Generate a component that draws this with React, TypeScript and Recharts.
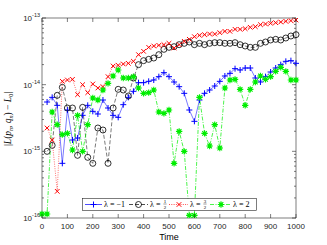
import { LineChart, Line, XAxis, YAxis } from "recharts";

// time grid (every 20 units) and log10 of the error for each lambda
const times = [
  0, 20, 40, 60, 80, 100, 120, 140, 160, 180, 200, 220, 240, 260, 280, 300, 320, 340, 360, 380,
  400, 420, 440, 460, 480, 500, 520, 540, 560, 580, 600, 620, 640, 660, 680, 700, 720, 740, 760, 780,
  800, 820, 840, 860, 880, 900, 920, 940, 960, 980, 1000,
];

const blueExp = [
  null, -14.26, -14.19, -14.31, -15.18, -14.38, -14.83, -14.8, -14.46, -14.31, -14.4, -14.44, -14.23, -14.35, -14.46, -14.49, -14.3, -14.19, -14.1, -13.97,
  -13.97, -13.95, -13.93, -13.88, -13.82, -13.88, -13.96, -14.03, -14.13, -14.38, -14.55, -14.23, -14.13, -14.08, -14.02, -13.95, -13.87, -13.83, -13.76, -13.78,
  -13.75, -13.75, -13.9, -13.96, -13.88, -13.81, -13.75, -13.7, -13.65, -13.64, -13.68,
];

const blackExp = [
  null, -15.0, -14.91, -14.16, -14.04, -14.35, -14.35, -15.06, -14.34, -15.09, -15.18, -14.65, -14.68, -15.18, -14.35, -14.07, -14.08, -14.17, -13.9, -13.7,
  -13.64, -13.62, -13.6, -13.55, -13.47, -13.44, -13.43, -13.4, -13.38, -13.36, -13.4, -13.38, -13.4, -13.38, -13.37, -13.37, -13.38, -13.38, -13.37, -13.4,
  -13.42, -13.44, -13.44, -13.38, -13.36, -13.33, -13.32, -13.33, -13.3, -13.27, -13.25,
];

const redExp = [
  null, -14.65, -14.83, -15.6, -13.95, -13.93, -13.92, -14.15, -14.0, -14.12, -13.99, -14.05, -14.03, -13.88, -13.72, -13.71, -13.69, -13.68, -13.65, -13.55,
  -13.5, -13.44, -13.42, -13.41, -13.4, -13.38, -13.45, -13.4, -13.35, -13.32, -13.28, -13.26, -13.25, -13.24, -13.24, -13.22, -13.2, -13.2, -13.17, -13.17,
  -13.16, -13.14, -13.13, -13.1, -13.09, -13.08, -13.07, -13.06, -13.05, -13.04, -13.03,
];

const greenExp = [
  -15.94, -15.94, -14.41, -14.6, -14.75, -14.73, -14.98, -14.46, -15.0, -14.6, -14.2, -14.23, -14.08, -13.98, -13.87, -13.78, -13.9, -13.9, -13.88, -14.05,
  -14.13, -14.12, -14.08, -14.41, -14.43, -14.38, -15.18, -14.7, -15.0, -15.96, -15.96, -14.19, -14.73, -14.92, -14.6, -14.95, -14.05, -13.93, -13.92, -14.07,
  -14.31, -14.07, -13.96, -13.87, -13.92, -13.88, -13.8, -13.74, -13.8, -13.93, -13.93,
];

const xTicks = [0, 100, 200, 300, 400, 500, 600, 700, 800, 900, 1000];
const decades = [-16, -15, -14, -13];
const minorMult = [2, 3, 4, 5, 6, 7, 8, 9];

const data = times.map((t, i) => ({
  t,
  blue: blueExp[i],
  black: blackExp[i],
  red: redExp[i],
  green: greenExp[i],
}));

const yTicks = [...decades];
decades.slice(0, 3).forEach((d) => minorMult.forEach((m) => yTicks.push(d + Math.log10(m))));
yTicks.sort((a, b) => a - b);

const axisColor = "#262626";
const BLUE = "#0000ff";
const RED = "#ff0000";
const GREEN = "#00ee00";

const isMajor = (v: number) => Math.abs(v - Math.round(v)) < 1e-6;

function LeftTick({ x, y, payload }: any) {
  const v = payload.value;
  const major = isMajor(v);
  return (
    <g>
      <line x1={x} x2={x + (major ? 4 : 2)} y1={y} y2={y} stroke={axisColor} strokeWidth={0.6} />
      {major && (
        <text x={x - 2} y={y + 3} textAnchor="end" fontSize={8} fill={axisColor} fontFamily="Liberation Sans">
          10<tspan dy={-4} fontSize={5.5}>{String(Math.round(v))}</tspan>
        </text>
      )}
    </g>
  );
}

function RightTick({ x, y, payload }: any) {
  const major = isMajor(payload.value);
  return <line x1={x} x2={x - (major ? 4 : 2)} y1={y} y2={y} stroke={axisColor} strokeWidth={0.6} />;
}

function BottomTick({ x, y, payload }: any) {
  return (
    <g>
      <line x1={x} x2={x} y1={y} y2={y - 4} stroke={axisColor} strokeWidth={0.6} />
      <text x={x} y={y + 11} textAnchor="middle" fontSize={8} fill={axisColor} fontFamily="Liberation Sans">
        {payload.value}
      </text>
    </g>
  );
}

function TopTick({ x, y }: any) {
  return <line x1={x} x2={x} y1={y} y2={y + 4} stroke={axisColor} strokeWidth={0.6} />;
}

// markers
const plusMark = (cx: number, cy: number, k?: any) => (
  <path key={k} d={`M${cx - 3},${cy}h6M${cx},${cy - 3}v6`} stroke={BLUE} strokeWidth={1} fill="none" />
);
const circleMark = (cx: number, cy: number, k?: any) => (
  <circle key={k} cx={cx} cy={cy} r={3} stroke="#000" strokeWidth={0.8} fill="none" />
);
const crossMark = (cx: number, cy: number, k?: any) => (
  <path key={k} d={`M${cx - 2.3},${cy - 2.3}l4.6,4.6M${cx - 2.3},${cy + 2.3}l4.6,-4.6`} stroke={RED} strokeWidth={1} fill="none" />
);
const starMark = (cx: number, cy: number, k?: any) => (
  <g key={k}>
    <circle cx={cx} cy={cy} r={1.9} fill={GREEN} />
    <path
      d={`M${cx},${cy - 3.2}v6.4M${cx - 3.2},${cy}h6.4M${cx - 2.3},${cy - 2.3}l4.6,4.6M${cx - 2.3},${cy + 2.3}l4.6,-4.6`}
      stroke={GREEN}
      strokeWidth={1.1}
    />
  </g>
);

const dotOf = (fn: (cx: number, cy: number, k?: any) => any) => (p: any) => {
  if (p.cy == null || p.value == null || isNaN(p.cy)) return <g key={`e-${p.index}`} />;
  return fn(p.cx, p.cy, `m-${p.index}`);
};

function Frac({ x, n, d }: { x: number; n: string; d: string }) {
  return (
    <g fontFamily="Liberation Serif" fontSize={5} fill="#000">
      <text x={x} y={5} textAnchor="middle">{n}</text>
      <line x1={x - 1.6} x2={x + 1.6} y1={6} y2={6} stroke="#000" strokeWidth={0.4} />
      <text x={x} y={10.5} textAnchor="middle">{d}</text>
    </g>
  );
}

function LegendBox() {
  const ty = 8.5;
  const txt = { fontFamily: "Liberation Serif", fontSize: 8, fill: "#000" };
  return (
    <svg width={175} height={13} style={{ position: "absolute", left: 82, top: 198 }}>
      <rect x={0.5} y={0.5} width={174} height={12} fill="#fff" stroke={axisColor} strokeWidth={0.6} />
      <line x1={3} x2={20} y1={6.5} y2={6.5} stroke={BLUE} strokeWidth={0.7} />
      {plusMark(11.5, 6.5)}
      <text x={22} y={ty} {...txt}>λ = −1</text>
      <line x1={47} x2={66} y1={6.5} y2={6.5} stroke="#000" strokeWidth={0.7} strokeDasharray="4 2" />
      {circleMark(56.5, 6.5)}
      <text x={68} y={ty} {...txt}>λ = </text>
      <Frac x={83} n="1" d="2" />
      <line x1={87} x2={106} y1={6.5} y2={6.5} stroke={RED} strokeWidth={0.7} strokeDasharray="1 1.3" />
      {crossMark(97, 6.5)}
      <text x={108} y={ty} {...txt}>λ = </text>
      <Frac x={123} n="3" d="2" />
      <line x1={128} x2={149} y1={6.5} y2={6.5} stroke={GREEN} strokeWidth={0.7} strokeDasharray="4 1.5 1 1.5" />
      {starMark(139, 6.5)}
      <text x={151} y={ty} {...txt}>λ = 2</text>
    </svg>
  );
}

export default function App() {
  return (
    <div style={{ position: "absolute", left: 0, top: 0, width: 327, height: 245, background: "#fff" }}>
      <LineChart width={327} height={245} data={data} margin={{ top: 0, right: 0, bottom: 0, left: 0 }}>
        <XAxis
          xAxisId="b"
          dataKey="t"
          type="number"
          domain={[0, 1000]}
          ticks={xTicks}
          interval={0}
          height={27}
          tickSize={0}
          tickMargin={0}
          tick={<BottomTick />}
          axisLine={{ stroke: axisColor, strokeWidth: 0.6 }}
          tickLine={false}
        />
        <XAxis
          xAxisId="t"
          orientation="top"
          dataKey="t"
          type="number"
          domain={[0, 1000]}
          ticks={xTicks}
          interval={0}
          height={18}
          tickSize={0}
          tickMargin={0}
          tick={<TopTick />}
          axisLine={{ stroke: axisColor, strokeWidth: 0.6 }}
          tickLine={false}
        />
        <YAxis
          yAxisId="l"
          type="number"
          domain={[-16, -13]}
          allowDataOverflow
          ticks={yTicks}
          interval={0}
          width={42}
          tickSize={0}
          tickMargin={0}
          tick={<LeftTick />}
          axisLine={{ stroke: axisColor, strokeWidth: 0.6 }}
          tickLine={false}
          label={{
            content: () => (
              <text
                transform="rotate(-90 11 119)"
                x={11}
                y={119}
                textAnchor="middle"
                fontFamily="Liberation Serif"
                fontSize={9.5}
                fill="#000"
              >
                |<tspan fontStyle="italic">L</tspan>(<tspan fontStyle="italic">p</tspan>
                <tspan dy={2} fontSize={6} fontStyle="italic">n</tspan>
                <tspan dy={-2}>, </tspan>
                <tspan fontStyle="italic">q</tspan>
                <tspan dy={2} fontSize={6} fontStyle="italic">n</tspan>
                <tspan dy={-2}>) − </tspan>
                <tspan fontStyle="italic">L</tspan>
                <tspan dy={2} fontSize={6}>0</tspan>
                <tspan dy={-2}>|</tspan>
              </text>
            ),
          }}
        />
        <YAxis
          yAxisId="r"
          orientation="right"
          type="number"
          domain={[-16, -13]}
          allowDataOverflow
          ticks={yTicks}
          interval={0}
          width={31}
          tickSize={0}
          tickMargin={0}
          tick={<RightTick />}
          axisLine={{ stroke: axisColor, strokeWidth: 0.6 }}
          tickLine={false}
        />
        <Line
          xAxisId="b"
          yAxisId="l"
          dataKey="blue"
          stroke={BLUE}
          strokeWidth={0.7}
          strokeOpacity={0.75}
          dot={dotOf(plusMark)}
          isAnimationActive={false}
        />
        <Line
          xAxisId="b"
          yAxisId="l"
          dataKey="black"
          stroke="#000"
          strokeWidth={0.7}
          strokeOpacity={0.75}
          strokeDasharray="4 2"
          dot={dotOf(circleMark)}
          isAnimationActive={false}
        />
        <Line
          xAxisId="b"
          yAxisId="l"
          dataKey="red"
          stroke={RED}
          strokeWidth={0.7}
          strokeOpacity={0.8}
          strokeDasharray="1 1.3"
          dot={dotOf(crossMark)}
          isAnimationActive={false}
        />
        <Line
          xAxisId="b"
          yAxisId="l"
          dataKey="green"
          stroke={GREEN}
          strokeWidth={0.7}
          strokeDasharray="4 1.5 1 1.5"
          dot={dotOf(starMark)}
          isAnimationActive={false}
        />
      </LineChart>
      <LegendBox />
      <div
        style={{
          position: "absolute",
          left: 42,
          width: 254,
          top: 232,
          textAlign: "center",
          fontFamily: "Liberation Sans",
          fontSize: 9,
          color: "#000",
          lineHeight: "10px",
        }}
      >
        Time
      </div>
    </div>
  );
}
